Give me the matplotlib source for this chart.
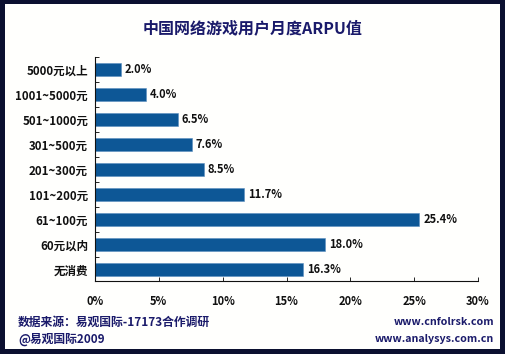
import matplotlib
matplotlib.use('Agg')
import matplotlib.pyplot as plt
from matplotlib.patches import Rectangle
from matplotlib.ticker import FixedLocator

plt.rcParams['font.family'] = ['Noto Sans CJK SC', 'DejaVu Sans']

# Data
categories = ['5000元以上', '1001~5000元', '501~1000元', '301~500元', '201~300元',
              '101~200元', '61~100元', '60元以内', '无消费']
values = [2.0, 4.0, 6.5, 7.6, 8.5, 11.7, 25.4, 18.0, 16.3]
xticks = [0, 5, 10, 15, 20, 25, 30]

W, H = 505, 354
fig = plt.figure(figsize=(W / 100, H / 100), dpi=100)
fig.patch.set_facecolor('#0b1030')
fig.patches.append(Rectangle((5 / W, 5 / H), 495 / W, 345 / H, transform=fig.transFigure,
                             facecolor='#fffffd', edgecolor='none', zorder=-10))

ax = fig.add_axes([95 / W, 1 - 281 / H, 383 / W, 224 / H])
ax.set_facecolor('none')
n = len(categories)
pos = list(range(n))
ax.barh(pos, values, height=0.5, color='#0d5796', edgecolor='#5b8fc0', linewidth=0.4)
ax.set_xlim(0, 30)
ax.set_ylim(n - 0.55, -0.5)

for p, v in zip(pos, values):
    ax.text(v + 0.3, p, '%.1f%%' % v, va='center', ha='left', fontsize=8,
            fontweight='heavy', color='#111111')

ax.set_yticks(pos)
ax.set_yticklabels(categories, fontsize=8.3, fontweight='heavy', color='#111111')
ax.yaxis.set_minor_locator(FixedLocator([p - 0.5 for p in pos] + [n - 0.5]))
ax.tick_params(axis='y', which='major', length=0, pad=5)
ax.tick_params(axis='y', which='minor', length=3, direction='in', width=0.6)

ax.set_xticks(xticks)
ax.set_xticklabels(['%d%%' % t for t in xticks], fontsize=8, fontweight='heavy', color='#111111')
ax.tick_params(axis='x', length=3, direction='in', width=0.6, pad=10)

for s in ['top', 'right']:
    ax.spines[s].set_visible(False)
for s in ['left', 'bottom']:
    ax.spines[s].set_linewidth(0.8)
    ax.spines[s].set_color('#111111')

fig.text(0.5, 1 - 28 / H, '中国网络游戏用户月度ARPU值', ha='center', va='center',
         fontsize=11.5, fontweight='heavy', color='#1a1a6a')
fig.text(18 / W, 1 - 322 / H, '数据来源：易观国际-17173合作调研', ha='left', va='center',
         fontsize=8.5, fontweight='heavy', color='#1a1a6a')
fig.text(18 / W, 1 - 339 / H, '@易观国际2009', ha='left', va='center',
         fontsize=8.5, fontweight='heavy', color='#1a1a6a')
fig.text(494 / W, 1 - 322 / H, 'www.cnfolrsk.com', ha='right', va='center',
         fontsize=7.7, fontweight='heavy', color='#1a1a6a')
fig.text(494 / W, 1 - 339 / H, 'www.analysys.com.cn', ha='right', va='center',
         fontsize=7.7, fontweight='heavy', color='#1a1a6a')

fig.savefig('out.png', dpi=100, facecolor=fig.get_facecolor())
